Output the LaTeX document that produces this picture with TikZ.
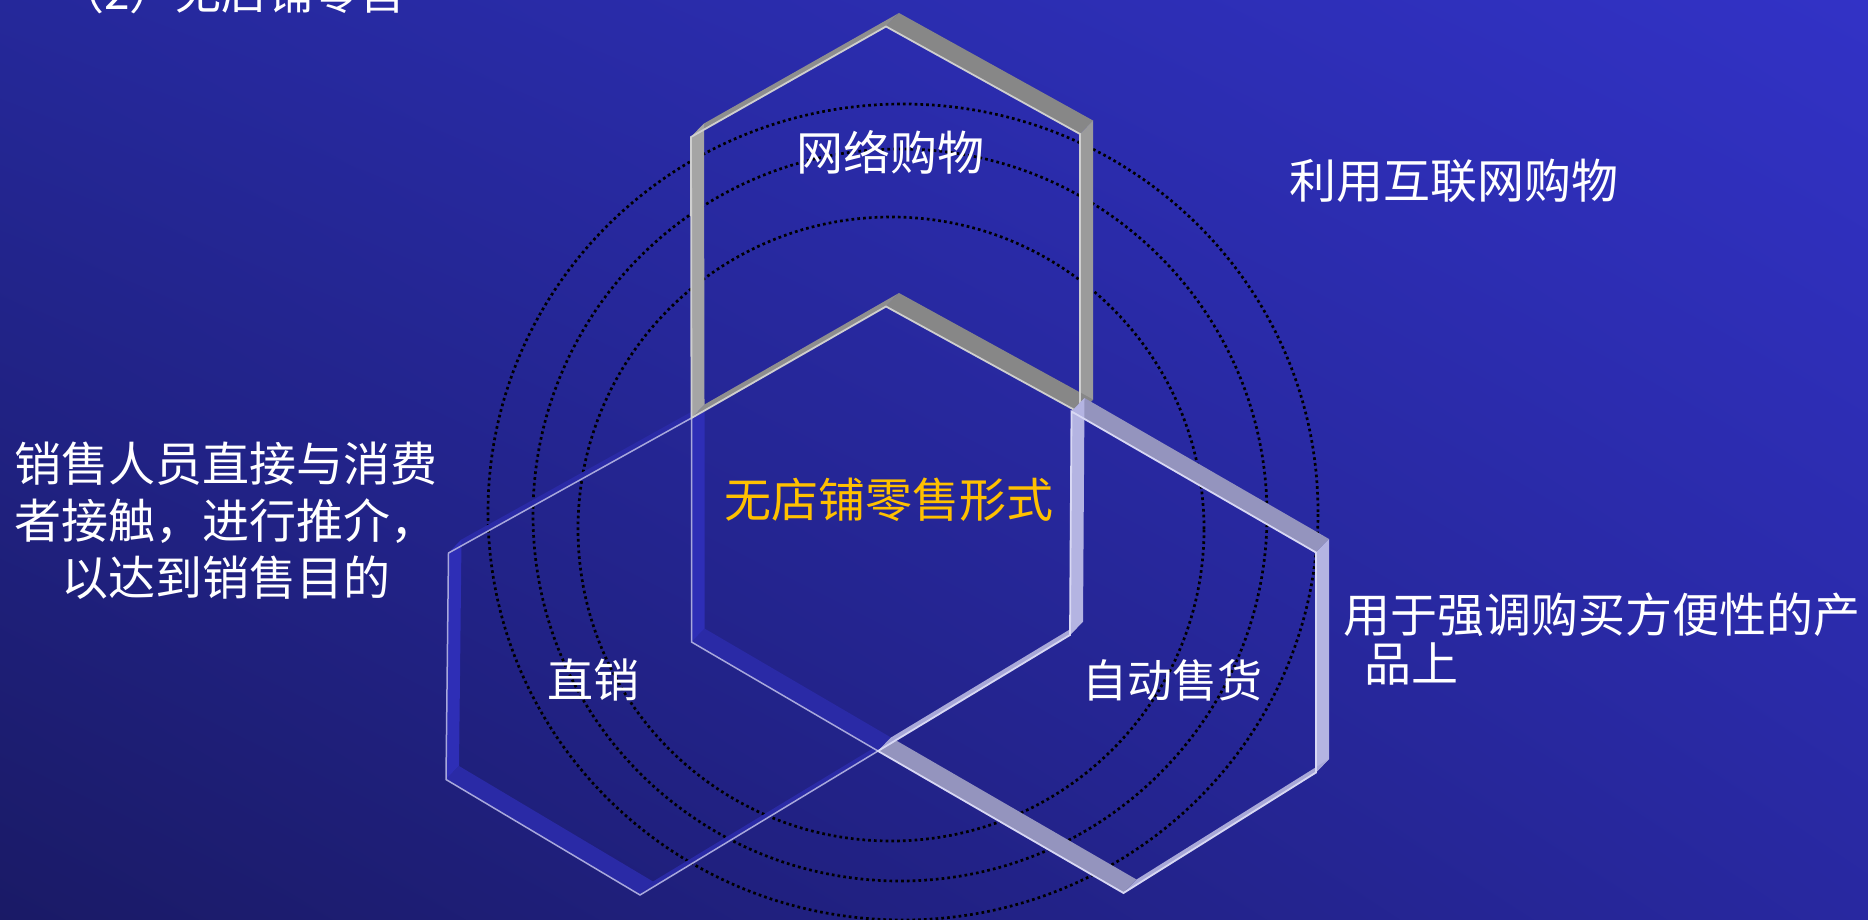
\documentclass[tikz,border=0pt]{standalone}
\usepackage{fontspec}
\usetikzlibrary{shadings}
\newfontfamily\cjk{Noto Sans CJK SC}
\definecolor{bgUL}{HTML}{25289A}
\definecolor{bgUR}{HTML}{3232C6}
\definecolor{bgLL}{HTML}{1A1A66}
\definecolor{bgLR}{HTML}{2828A0}
\definecolor{gThick}{HTML}{878787}
\definecolor{gThin}{HTML}{8E8E8E}
\definecolor{gVL}{HTML}{A5A5A5}
\definecolor{gVR}{HTML}{9B9B9B}
\definecolor{gLine}{HTML}{CFCFCF}
\definecolor{lThick}{HTML}{9494BE}
\definecolor{lVert}{HTML}{B4B4E2}
\definecolor{lThin}{HTML}{A8A8D8}
\definecolor{lLine}{HTML}{D8D8F4}
\definecolor{bVert}{HTML}{2E2EB6}
\definecolor{bSlant}{HTML}{2A2AA6}
\definecolor{bLine}{HTML}{A8A8DC}
\definecolor{gold}{HTML}{FFC000}
\newcommand{\wallf}[3]{\fill[#1] (#2) -- (#3) -- ([shift={(13,-13.5)}]#3) -- ([shift={(13,-13.5)}]#2) -- cycle;}
\tikzset{
  dotc/.style={black, line width=2.7pt, dash pattern=on 2.7pt off 3.1pt},
  txt/.style={inner sep=0pt, text=white},
  frontline/.style={line width=1.8pt, line join=miter}
}
\begin{document}
\begin{tikzpicture}[x=1pt,y=-1pt]
\useasboundingbox (0,0) rectangle (1868,920);
\clip (0,0) rectangle (1868,920);
\shade[shading=bilinear interpolation, upper left=bgUL, upper right=bgUR, lower left=bgLL, lower right=bgLR] (0,0) rectangle (1868,920);

% dotted circles
\draw[dotc] (903,512) ellipse [x radius=415pt, y radius=408pt];
\draw[dotc] (900,515) ellipse [x radius=367pt, y radius=366pt];
\draw[dotc] (891,529) ellipse [x radius=313pt, y radius=312pt];

% vertices
\coordinate (A1) at (691,137);
\coordinate (A2) at (886,26.5);
\coordinate (A3) at (1080,134);
\coordinate (A4) at (1080,413);
\coordinate (A5) at (886,306.5);
\coordinate (A6) at (691.5,418);

\coordinate (B1) at (691.5,418);
\coordinate (B2) at (448.5,553);
\coordinate (B3) at (446,779.5);
\coordinate (B4) at (640,895);
\coordinate (B5) at (878,751);
\coordinate (B6) at (691.5,642);

\coordinate (C1) at (1071.5,411.5);
\coordinate (C2) at (1316,552.5);
\coordinate (C3) at (1316,772.5);
\coordinate (C4) at (1123.5,893);
\coordinate (C5) at (878,751);
\coordinate (C6) at (1070,635);

% left chevron (blue)
\wallf{bSlant}{B1}{B2}
\wallf{bVert}{B2}{B3}
\wallf{bSlant}{B3}{B4}
\wallf{bSlant}{B4}{B5}
\wallf{bSlant}{B5}{B6}
\wallf{bVert}{B6}{B1}
\draw[frontline, bLine, line width=1.5pt] (B1) -- (B2) -- (B3) -- (B4) -- (B5) -- (B6) -- cycle;

% top chevron (gray)
\wallf{gThin}{A1}{A2}
\wallf{gThick}{A2}{A3}
\wallf{gVR}{A3}{A4}
\wallf{gThick}{A4}{A5}
\wallf{gThin}{A5}{A6}
\wallf{gVL}{A6}{A1}
\draw[frontline, gLine] (A1) -- (A2) -- (A3) -- (A4) -- (A5) -- (A6) -- cycle;

% right chevron (lavender)
\wallf{lThick}{C1}{C2}
\wallf{lVert}{C2}{C3}
\wallf{lThin}{C3}{C4}
\wallf{lThick}{C4}{C5}
\wallf{lThin}{C5}{C6}
\wallf{lVert}{C6}{C1}
\draw[frontline, lLine] (C1) -- (C2) -- (C3) -- (C4) -- (C5) -- (C6) -- cycle;

% texts
\node[txt, anchor=base west, font=\cjk\fontsize{46}{55}\selectfont] (title) at (58,10) {（2）无店铺零售};
\node[txt, font=\cjk\fontsize{47}{56}\selectfont] (net) at (890,152) {网络购物};
\node[txt, anchor=west, font=\cjk\fontsize{47}{56}\selectfont] (netd) at (1289,181) {利用互联网购物};
\node[txt, text=gold, font=\cjk\fontsize{47}{56}\selectfont] (center) at (889,500) {无店铺零售形式};
\node[txt, font=\cjk\fontsize{46}{55}\selectfont] (direct) at (593,680) {直销};
\node[txt, font=\cjk\fontsize{45}{54}\selectfont] (vend) at (1172,680) {自动售货};
\node[txt, align=center, font=\cjk\fontsize{47}{57}\selectfont] (directd) at (226,521) {销售人员直接与消费\\者接触，进行推介，\\以达到销售目的};
\node[txt, anchor=west, font=\cjk\fontsize{47}{56}\selectfont] (vendd1) at (1343,615) {用于强调购买方便性的产};
\node[txt, anchor=west, font=\cjk\fontsize{47}{56}\selectfont] (vendd2) at (1364,664) {品上};
\end{tikzpicture}
\end{document}
